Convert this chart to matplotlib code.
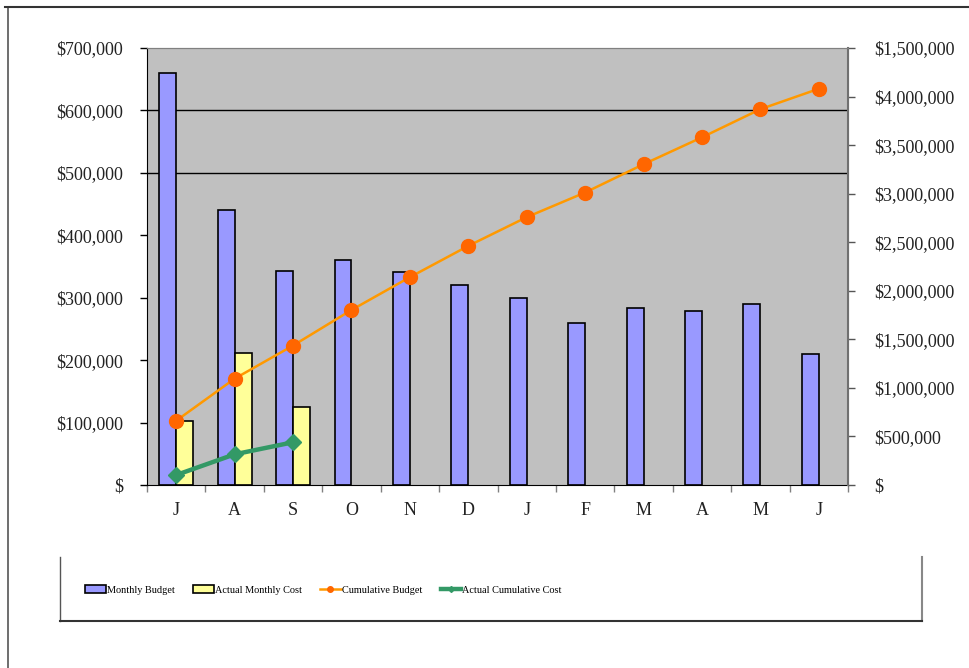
import matplotlib
matplotlib.use("Agg")
import matplotlib.pyplot as plt
import numpy as np
from matplotlib.lines import Line2D
from matplotlib.patches import Patch
from matplotlib.ticker import FixedLocator, FixedFormatter, NullFormatter

# ---- data ----
months = ["J", "A", "S", "O", "N", "D", "J", "F", "M", "A", "M", "J"]
monthly_budget = [660000, 440000, 343000, 361000, 341000, 320000, 300000, 259000, 283000, 278000, 290000, 210000]
actual_monthly = [103000, 211000, 125000]
cumulative_budget = [662000, 1095000, 1436000, 1802000, 2140000, 2462000, 2758000, 3012000, 3303000, 3580000, 3870000, 4080000]
actual_cumulative = [103000, 316000, 440000]
left_ticks = [0, 100000, 200000, 300000, 400000, 500000, 600000, 700000]
left_labels = ["$", "$100,000", "$200,000", "$300,000", "$400,000", "$500,000", "$600,000", "$700,000"]
right_ticks = [0, 500000, 1000000, 1500000, 2000000, 2500000, 3000000, 3500000, 4000000, 4500000]
right_labels = ["$", "$500,000", "$1,000,000", "$1,500,000", "$2,000,000", "$2,500,000",
                "$3,000,000", "$3,500,000", "$4,000,000", "$1,500,000"]
gridlines = [500000, 600000]

plt.rcParams['font.family'] = ['Liberation Serif', 'DejaVu Serif']
FS = 13

fig = plt.figure(figsize=(9.69, 6.68), dpi=100)
ax = fig.add_axes([147/969, 1-485/668, (848-147)/969, (485-48)/668])
ax2 = ax.twinx()

x = np.arange(len(months))
w = 0.29
ax.set_facecolor("#C0C0C0")
for g in gridlines:
    ax.axhline(g, color="black", lw=1.0, zorder=1)
ax.bar(x - w/2, monthly_budget, width=w, color="#9999FF", edgecolor="black", lw=1.2, zorder=2,
       label="Monthly Budget")
ax.bar(x[:len(actual_monthly)] + w/2, actual_monthly, width=w, color="#FFFF99", edgecolor="black",
       lw=1.2, zorder=2, label="Actual Monthly Cost")

ax2.plot(x, cumulative_budget, color="#FF9900", lw=1.8, marker="o", markersize=10,
         markerfacecolor="#FF6600", markeredgecolor="#FF6600", zorder=3, label="Cumulative Budget")
ax2.plot(x[:len(actual_cumulative)], actual_cumulative, color="#339966", lw=3.2, marker="D",
         markersize=8.5, markerfacecolor="#339966", markeredgecolor="#339966", zorder=3,
         label="Actual Cumulative Cost")

ax.set_xlim(-0.5, len(months) - 0.5)
ax.set_ylim(0, 700000)
ax2.set_ylim(0, 4500000)

ax.yaxis.set_major_locator(FixedLocator(left_ticks))
ax.yaxis.set_major_formatter(FixedFormatter(left_labels))
ax2.yaxis.set_major_locator(FixedLocator(right_ticks))
ax2.yaxis.set_major_formatter(FixedFormatter(right_labels))

ax.xaxis.set_major_locator(FixedLocator(np.arange(len(months) + 1) - 0.5))
ax.xaxis.set_major_formatter(NullFormatter())
ax.xaxis.set_minor_locator(FixedLocator(x))
ax.xaxis.set_minor_formatter(FixedFormatter(months))
ax.tick_params(axis="x", which="major", direction="out", length=5, color="#808080", width=1)
ax.tick_params(axis="x", which="minor", length=0, pad=12, labelsize=FS, labelcolor="#222222")
ax.tick_params(axis="y", direction="out", length=5, width=1, pad=12, labelsize=FS, labelcolor="#222222")
ax2.tick_params(axis="y", direction="out", length=5, width=1, pad=14, labelsize=FS, labelcolor="#222222",
                color="#555555")

for s in ["top", "right"]:
    ax.spines[s].set_color("#808080")
ax.spines["left"].set_color("black")
ax.spines["bottom"].set_color("black")
ax2.spines["right"].set_color("#707070")
ax2.spines["right"].set_linewidth(1.5)
ax2.spines["top"].set_color("#808080")
ax2.spines["left"].set_visible(False)
ax2.spines["bottom"].set_visible(False)

# outer chart frame (left & top visible)
fig.add_artist(Line2D([8/969, 8/969], [0, 1-7/668], color="#555555", lw=1.2))
fig.add_artist(Line2D([5/969, 1], [1-7/668, 1-7/668], color="#333333", lw=1.5))

# legend box (left, right, bottom edges)
lx0, lx1 = 60/969, 922/969
ly0, ly1 = 1-621/668, 1-557/668
fig.add_artist(Line2D([lx0, lx0], [ly0, ly1], color="#555555", lw=1))
fig.add_artist(Line2D([lx1, lx1], [ly0, ly1], color="#888888", lw=1.5))
fig.add_artist(Line2D([lx0, lx1], [ly0, ly0], color="#333333", lw=1.5))

handles = [
    Patch(facecolor="#9999FF", edgecolor="black", lw=1.2, label="Monthly Budget"),
    Patch(facecolor="#FFFF99", edgecolor="black", lw=1.2, label="Actual Monthly Cost"),
    Line2D([], [], color="#FF9900", lw=1.8, marker="o", markersize=4, markerfacecolor="#FF6600",
           markeredgecolor="#FF6600", label="Cumulative Budget"),
    Line2D([], [], color="#339966", lw=3.2, marker="D", markersize=3, label="Actual Cumulative Cost"),
]
fig.legend(handles=handles, loc="center left", bbox_to_anchor=(85/969, 1-590/668), ncol=4,
           frameon=False, fontsize=7.4, handlelength=2.0, handleheight=0.75, handletextpad=0.1,
           columnspacing=1.8, borderpad=0, borderaxespad=0)

fig.savefig("out.png", dpi=100)
